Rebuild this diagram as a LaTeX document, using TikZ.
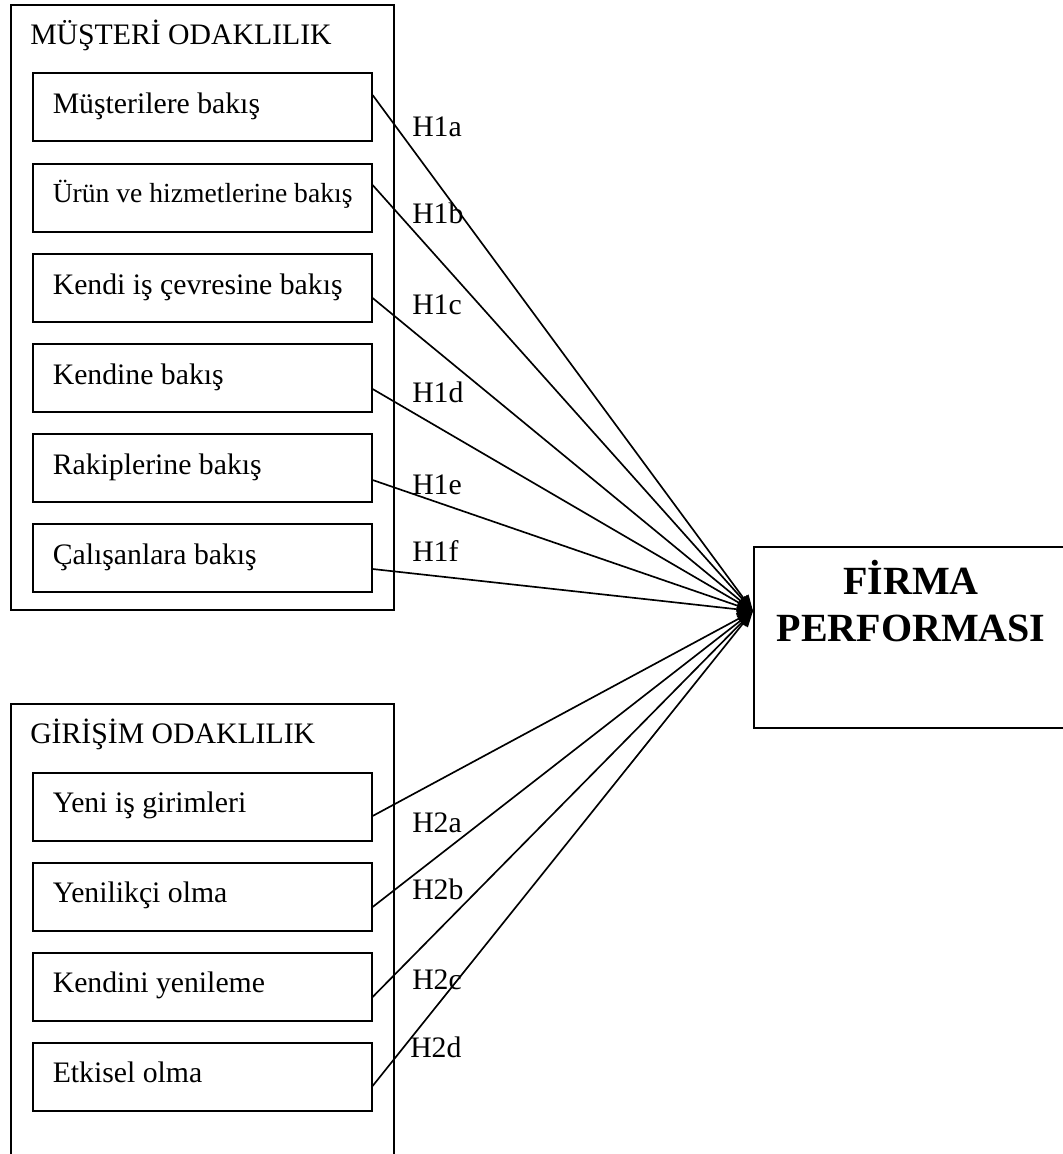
\documentclass[tikz,border=0pt]{standalone}
\usepackage{fontspec}
\setmainfont{Liberation Serif}
\usetikzlibrary{calc,arrows.meta}
% fixed-width slot for the text inside a factor box
\newcommand\slot[1]{\makebox[224.25pt][l]{#1}}
\begin{document}
\begin{tikzpicture}[x=0.75pt,y=-0.75pt,
  frame/.style={draw, line width=1.3pt, rectangle, anchor=north west, inner sep=0pt},
  factor/.style={draw, line width=1.2pt, rectangle, anchor=north west,
    inner xsep=15pt, inner ysep=0pt, text height=30.5pt, text depth=20.5pt,
    font=\fontsize{22.3pt}{26pt}\selectfont},
  txt/.style={anchor=base west, inner sep=0pt, font=\fontsize{22.3pt}{26pt}\selectfont},
  bigtxt/.style={anchor=base, inner sep=0pt, font=\bfseries\fontsize{30pt}{35pt}\selectfont},
  link/.style={line width=1.25pt, -{Triangle[length=12pt,width=9pt]}}
]
\useasboundingbox (0,0) rectangle (1063,1154);
\clip (0,0) rectangle (1063,1154);

% customer orientation group
\node[frame, minimum width=287.25pt, minimum height=453.75pt] (mo) at (10,4) {};
\node[txt] (mt) at (30,44) {MÜŞTERİ ODAKLILIK};
\node[factor] (b1) at (32,72)  {\slot{Müşterilere bakış}};
\node[factor, text height=29pt, text depth=22pt, font=\fontsize{20.7pt}{24pt}\selectfont]
      (b2) at (32,163) {\slot{Ürün ve hizmetlerine bakış}};
\node[factor] (b3) at (32,253) {\slot{Kendi iş çevresine bakış}};
\node[factor] (b4) at (32,343) {\slot{Kendine bakış}};
\node[factor] (b5) at (32,433) {\slot{Rakiplerine bakış}};
\node[factor] (b6) at (32,523) {\slot{Çalışanlara bakış}};

% entrepreneurial orientation group (runs off the lower edge)
\node[frame, minimum width=287.25pt, minimum height=360pt] (go) at (10,703) {};
\node[txt] (gt) at (30,743) {GİRİŞİM ODAKLILIK};
\node[factor, text height=29.5pt, text depth=21.5pt] (e1) at (32,772)  {\slot{Yeni iş girimleri}};
\node[factor, text height=30pt, text depth=21pt] (e2) at (32,862)  {\slot{Yenilikçi olma}};
\node[factor, text height=30pt, text depth=21pt] (e3) at (32,952)  {\slot{Kendini yenileme}};
\node[factor, text height=30pt, text depth=21pt] (e4) at (32,1042) {\slot{Etkisel olma}};

% firm performance
\node[frame, minimum width=237pt, minimum height=135.75pt] (fp) at (753,546) {};
\node[bigtxt] (f1) at (911,594) {FİRMA};
\node[bigtxt] (f2) at (911,641) {PERFORMASI};
\coordinate (tip) at (753,611);

% hypothesis paths
\draw[link] ($(b1.north east)+(0,23)$) -- (tip);
\draw[link] ($(b2.north east)+(0,22)$) -- (tip);
\draw[link] ($(b3.north east)+(0,45)$) -- (tip);
\draw[link] ($(b4.north east)+(0,46)$) -- (tip);
\draw[link] ($(b5.north east)+(0,47)$) -- (tip);
\draw[link] ($(b6.north east)+(0,46)$) -- (tip);
\draw[link] ($(e1.north east)+(0,44)$) -- (tip);
\draw[link] ($(e2.north east)+(0,45)$) -- (tip);
\draw[link] ($(e3.north east)+(0,45)$) -- (tip);
\draw[link] ($(e4.north east)+(0,44)$) -- (tip);

% hypothesis labels
\node[txt] (h1a) at (412,136) {H1a};
\node[txt] (h1b) at (412,223) {H1b};
\node[txt] (h1c) at (412,314) {H1c};
\node[txt] (h1d) at (412,402) {H1d};
\node[txt] (h1e) at (412,494) {H1e};
\node[txt] (h1f) at (412,561) {H1f};
\node[txt] (h2a) at (412,832) {H2a};
\node[txt] (h2b) at (412,899) {H2b};
\node[txt] (h2c) at (412,989) {H2c};
\node[txt] (h2d) at (410,1057) {H2d};
\end{tikzpicture}
\end{document}
